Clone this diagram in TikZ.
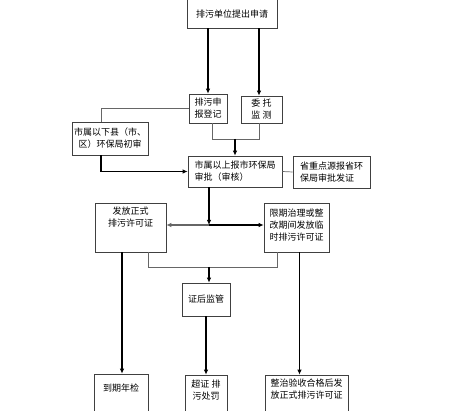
\documentclass[tikz,border=0pt]{standalone}
\usepackage{fontspec}
\newfontfamily\cjk{Noto Sans CJK SC}
\usetikzlibrary{arrows.meta}
\begin{document}
\begin{tikzpicture}[x=1pt,y=-1pt,
 box/.style={draw=black!75, line width=0.6pt, inner sep=0pt},
 txt/.style={font=\cjk\fontsize{9}{12}\selectfont, inner sep=0pt, align=center},
 arr/.style={line width=1.1pt, -{Latex[length=5pt,width=4.5pt]}},
 thinline/.style={draw=black!60, line width=0.7pt}]
\useasboundingbox (0,0) rectangle (471,411);
% boxes
\node[box, minimum width=90pt, minimum height=38pt] (A) at (232,9) {};
\node[txt] (At) at (232,14) {排污单位提出申请};
\node[box, txt, minimum width=38pt, minimum height=29pt] (B) at (208,108.5) {排污申\\报登记};
\node[box, txt, minimum width=41pt, minimum height=27pt] (C) at (261.5,109.5) {委 托\\监 测};
\node[box, txt, minimum width=76pt, minimum height=33pt] (D) at (110,138.5) {市属以下县（市、\\区）环保局初审};
\node[box, txt, align=left, minimum width=94pt, minimum height=31pt] (E) at (235,171.5) {市属以上报市环保局\\审批（审核）};
\node[box, txt, align=left, minimum width=77pt, minimum height=32pt] (F) at (331.5,172) {省重点源报省环\\保局审批发证};
\node[box, minimum width=71pt, minimum height=49pt] (G) at (130.5,227.5) {};
\node[txt] (Gt) at (130.5,217.5) {发放正式\\排污许可证};
\node[box, minimum width=65pt, minimum height=49pt] (H) at (296.5,227.5) {};
\node[txt] (Ht) at (296.5,225) {限期治理或整\\改期间发放临\\时排污许可证};
\node[box, txt, minimum width=48pt, minimum height=33pt] (I) at (206,299.5) {证后监管};
\node[box, minimum width=54pt, minimum height=52pt] (J) at (121,400) {};
\node[txt] (Jt) at (121,388) {到期年检};
\node[box, minimum width=42pt, minimum height=50pt] (K) at (206,400) {};
\node[txt] (Kt) at (206,390) {超证 排\\污处罚};
\node[box, minimum width=83pt, minimum height=50pt] (L) at (306.5,400) {};
\node[txt] (Lt) at (306.5,389) {整治验收合格后发\\放正式排污许可证};
% helper coordinates
\coordinate (c1) at ([xshift=-2.5pt]C.north);
\coordinate (c2) at ([xshift=-2.5pt]C.south);
\coordinate (b1) at ([xshift=4pt]B.south);
\coordinate (d1) at ([xshift=-9pt]D.north);
\coordinate (d2) at ([xshift=-9pt]D.south);
\coordinate (m1) at (235,139);
\coordinate (e1) at ([xshift=-26pt]E.south);
\coordinate (j1) at (209,225);
\coordinate (g1) at ([xshift=17.5pt]G.south);
\coordinate (g2) at ([xshift=-8.5pt]G.south);
\coordinate (h1) at ([xshift=-19.5pt]H.south);
\coordinate (h2) at ([xshift=3pt]H.south);
\coordinate (j2) at (209,267);
% connectors
\draw[arr] (A.south -| B.north) -- (B.north);
\draw[arr] (c1 |- A.south) -- (c1);
\draw[thinline] (B.west) -| (d1);
\draw[thinline] (b1) -- ++(0,16) -| (c2);
\draw[arr] (m1) -- (E.north);
\draw[arr] (d2) |- (E.west);
\draw[thinline] (E.east) -- (F.west);
\draw[arr] (e1) -- (j1);
\draw[arr, draw=black!60, fill=black!60] (j1) -- (j1 -| G.east);
\draw[arr] (j1) -- (j1 -| H.west);
\draw[thinline] (g1) -- ++(0,15) -| (h1);
\draw[arr] (j2) -- (j2 |- I.north);
\draw[arr] (g2) -- (g2 |- J.north);
\draw[arr] (I.south) -- (K.north);
\draw[arr] (h2) -- (h2 |- L.north);
\end{tikzpicture}
\end{document}
